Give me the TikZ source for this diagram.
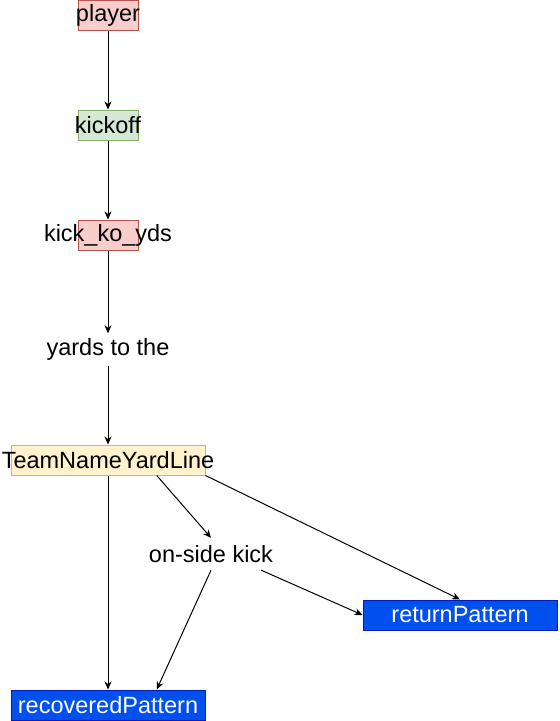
\documentclass[tikz,border=0pt]{standalone}
\usepackage{fontspec}
\setmainfont{Liberation Sans}
\usetikzlibrary{arrows.meta, calc}
\definecolor{RedFill}{HTML}{F8CECC}
\definecolor{RedLine}{HTML}{B85450}
\definecolor{GreenFill}{HTML}{D5E8D4}
\definecolor{GreenLine}{HTML}{82B366}
\definecolor{YellowFill}{HTML}{FFF2CC}
\definecolor{YellowLine}{HTML}{D6B656}
\definecolor{PatBlue}{HTML}{0050EF}
\definecolor{PatLine}{HTML}{001DBC}
\tikzset{
    block/.style={rectangle, draw, inner sep=0pt, minimum height=30pt, line width=1pt, font=\fontsize{23.5}{28}\selectfont},
    redbox/.style={block, fill=RedFill, draw=RedLine, minimum width=60pt},
    greenbox/.style={block, fill=GreenFill, draw=GreenLine, minimum width=60pt},
    yellowbox/.style={block, fill=YellowFill, draw=YellowLine, minimum width=194pt},
    patbox/.style={block, fill=PatBlue, draw=PatLine, text=white, minimum width=194pt},
    textonly/.style={rectangle, inner sep=0pt, minimum height=32pt, font=\fontsize{23.5}{28}\selectfont},
    arrow/.style={-{Stealth[length=8pt, width=7pt, inset=2.5pt]}, line width=1pt}
}

\begin{document}
\begin{tikzpicture}[x=1pt, y=-1pt]
            \useasboundingbox (0,0) rectangle (560,721);
            \node[redbox] (player) at (108, 15) {\makebox[0pt]{player}};
            \node[greenbox] (kickoff) at (108, 125) {\makebox[0pt]{kickoff}};
            \node[redbox] (kickko) at (108, 235) {\makebox[0pt]{kick\_ko\_yds}};
            \node[textonly, minimum width=130pt] (yards) at (108, 349.5) {yards to the};
            \node[yellowbox] (team) at (108, 460) {\makebox[0pt]{TeamNameYardLine}};
            \node[textonly, minimum width=100pt] (onside) at (211, 554) {\makebox[0pt]{on-side kick}};
            \node[patbox] (ret) at (460, 615) {\makebox[0pt]{returnPattern}};
            \node[patbox] (recovered) at (108, 705) {\makebox[0pt]{recoveredPattern}};

            \draw[arrow] (player) -- (kickoff);
            \draw[arrow] (kickoff) -- (kickko);
            \draw[arrow] (kickko) -- (yards);
            \draw[arrow] (yards) -- (team);
            \draw[arrow] (team) -- (recovered);
            \draw[arrow] ($(team.south)!0.5!(team.south east)$) -- (onside.north);
            \draw[arrow] (team.south east) -- (ret.north);
            \draw[arrow] (onside.south east) -- (ret.west);
            \draw[arrow] (onside.south) -- ($(recovered.north)!0.5!(recovered.north east)$);
            \end{tikzpicture}
\end{document}
